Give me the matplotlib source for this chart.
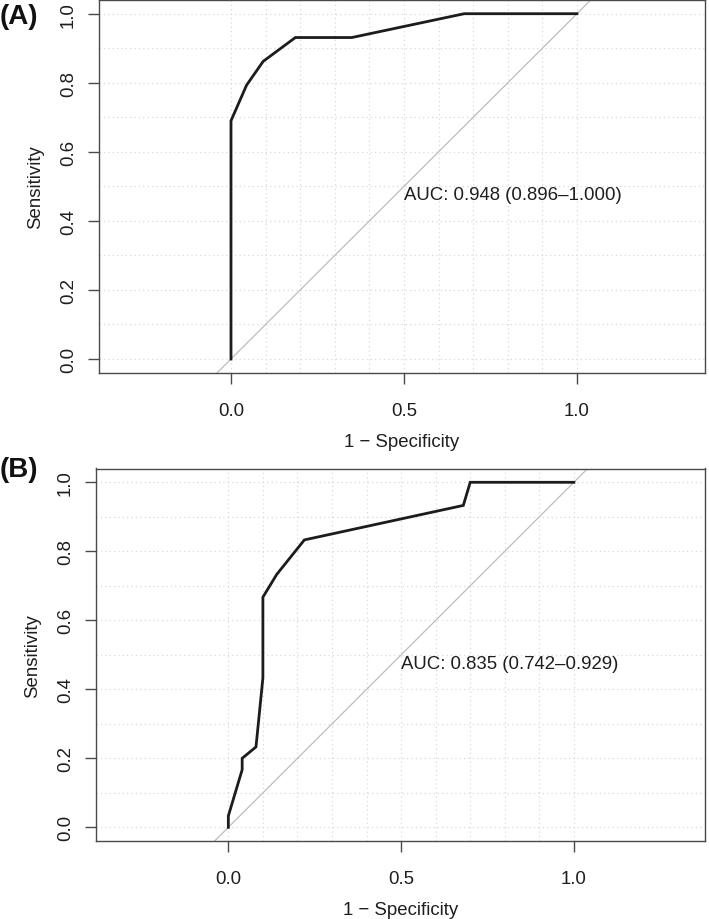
import matplotlib
matplotlib.use("Agg")
import matplotlib.pyplot as plt
import numpy as np

plt.rcParams['font.family'] = ['Liberation Sans', 'DejaVu Sans']

# ---- data ----
fpr_a = [0.0, 0.0, 0.045, 0.093, 0.186, 0.349, 0.674, 1.0]
tpr_a = [0.0, 0.690, 0.793, 0.862, 0.931, 0.931, 1.0, 1.0]
auc_a = "AUC: 0.948 (0.896\u20131.000)"

fpr_b = [0.0, 0.0, 0.04, 0.04, 0.08, 0.10, 0.10, 0.14, 0.22, 0.68, 0.70, 1.0]
tpr_b = [0.0, 0.033, 0.167, 0.200, 0.233, 0.433, 0.667, 0.733, 0.833, 0.933, 1.0, 1.0]
auc_b = "AUC: 0.835 (0.742\u20130.929)"

panel_labels = ["(A)", "(B)"]
x_ticks = [0.0, 0.5, 1.0]
y_ticks = [0.0, 0.2, 0.4, 0.6, 0.8, 1.0]
grid_vals = [i / 10 for i in range(11)]

W, H = 709, 920
fig = plt.figure(figsize=(W / 100, H / 100), dpi=100)


def px_axes(left, top, right, bottom):
    return fig.add_axes([left / W, 1 - bottom / H, (right - left) / W, (bottom - top) / H])


SPINE = "#4a4a4a"
TEXT = "#1e1e1e"
FS = 13.4

panels = [
    dict(box=(99, 0.9, 705, 373.8), xlim=(-0.3815, 1.370), fpr=fpr_a, tpr=tpr_a,
         auc=auc_a, label=panel_labels[0], label_y=17),
    dict(box=(96, 469.5, 704.5, 842.1), xlim=(-0.383, 1.378), fpr=fpr_b, tpr=tpr_b,
         auc=auc_b, label=panel_labels[1], label_y=470),
]

for p in panels:
    ax = px_axes(*p["box"])
    ax.set_xlim(*p["xlim"])
    ax.set_ylim(-0.04, 1.04)
    # grid
    for g in grid_vals:
        ax.axvline(g, color="#d9d9d9", lw=0.9, ls=(0, (1, 2.5)), zorder=0)
        ax.axhline(g, color="#d9d9d9", lw=0.9, ls=(0, (1, 2.5)), zorder=0)
    # identity line
    ax.plot([-2, 3], [-2, 3], color="#bdbdbd", lw=0.9, zorder=1)
    # ROC curve
    ax.plot(p["fpr"], p["tpr"], color="#1c1c1c", lw=2.0, zorder=3,
            solid_joinstyle="miter")
    ax.text(0.5, 0.5, p["auc"], ha="left", va="top", fontsize=FS, color=TEXT)

    for s in ax.spines.values():
        s.set_color(SPINE)
        s.set_linewidth(1.0)
    ax.set_xticks(x_ticks)
    ax.set_xticklabels([f"{v:.1f}" for v in x_ticks])
    ax.set_yticks(y_ticks)
    ax.set_yticklabels([f"{v:.1f}" for v in y_ticks], rotation=90, va="center")
    ax.tick_params(axis="both", direction="out", length=8, width=1.0, color=SPINE,
                   labelsize=FS, labelcolor=TEXT)
    ax.tick_params(axis="x", pad=13)
    ax.tick_params(axis="y", pad=8)
    ax.set_xlabel("1 \u2212 Specificity", fontsize=FS, color=TEXT, labelpad=10)
    ax.set_ylabel("Sensitivity", fontsize=FS, color=TEXT, labelpad=11)

    fig.text(0 / W, 1 - p["label_y"] / H, p["label"], fontsize=20, fontweight="bold",
             ha="left", va="center", color="#111111")

fig.savefig("out.png", dpi=100)
